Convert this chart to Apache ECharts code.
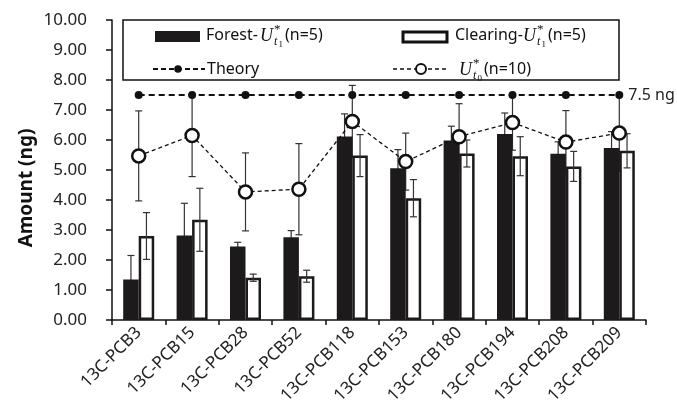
<!DOCTYPE html>
<html>
<head>
<meta charset="utf-8">
<script src="https://cdn.jsdelivr.net/npm/echarts@6/dist/echarts.min.js"></script>
<style>
html,body{margin:0;padding:0;background:#fff;}
#chart{width:677px;height:418px;}
</style>
</head>
<body>
<div id="chart"></div>
<script>
// ---- data ----
var categories = ['13C-PCB3','13C-PCB15','13C-PCB28','13C-PCB52','13C-PCB118','13C-PCB153','13C-PCB180','13C-PCB194','13C-PCB208','13C-PCB209'];
var forest      = [1.35, 2.82, 2.45, 2.76, 6.12, 5.06, 5.98, 6.20, 5.54, 5.73];
var forestErr   = [0.80, 1.07, 0.14, 0.22, 0.75, 0.62, 0.48, 0.70, 0.40, 0.55];
var clearing    = [2.80, 3.34, 1.41, 1.46, 5.48, 4.06, 5.55, 5.46, 5.12, 5.64];
var clearingErr = [0.78, 1.05, 0.12, 0.20, 0.70, 0.62, 0.45, 0.65, 0.50, 0.57];
var ut0         = [5.47, 6.15, 4.27, 4.36, 6.62, 5.28, 6.11, 6.58, 5.93, 6.23];
var ut0Err      = [1.50, 1.37, 1.30, 1.52, 1.20, 0.95, 1.10, 0.92, 1.05, 1.27];
var theoryValue = 7.5;
var theory      = [7.5, 7.5, 7.5, 7.5, 7.5, 7.5, 7.5, 7.5, 7.5, 7.5];
var yTicks      = ['0.00','1.00','2.00','3.00','4.00','5.00','6.00','7.00','8.00','9.00','10.00'];

var FONT = '"Noto Sans", sans-serif';
var MATH = '"Liberation Serif", "DejaVu Serif", serif';
var BAR_W = 15.5;

function errRender(offset, color) {
  return function (params, api) {
    var i = api.value(0), v = api.value(1), e = api.value(2);
    var t = api.coord([i, v + e]);
    var b = api.coord([i, v - e]);
    var x = t[0] + offset;
    var cap = 3.5;
    var st = {stroke: color, lineWidth: 1.2};
    return {type: 'group', children: [
      {type: 'line', shape: {x1: x, y1: t[1], x2: x, y2: b[1]}, style: st},
      {type: 'line', shape: {x1: x - cap, y1: t[1], x2: x + cap, y2: t[1]}, style: st},
      {type: 'line', shape: {x1: x - cap, y1: b[1], x2: x + cap, y2: b[1]}, style: st}
    ]};
  };
}
function errData(vals, errs) {
  return vals.map(function (v, i) { return [i, v, errs[i]]; });
}

var theoryData = theory.map(function (v, i) {
  if (i === theory.length - 1) {
    return {value: v, label: {show: true, position: 'right', distance: 5,
      formatter: theoryValue + ' ng', fontFamily: FONT, fontSize: 16, color: '#222'}};
  }
  return v;
});

function txt(x, y, s, font, extra) {
  var style = Object.assign({x: x, y: y, text: s, font: font, fill: '#111',
    textAlign: 'left', textVerticalAlign: 'middle'}, extra || {});
  return {type: 'text', z: 100, style: style};
}

var legendGraphics = [
  {type: 'rect', z: 99, shape: {x: 123, y: 20, width: 496, height: 60},
    style: {fill: '#fff', stroke: '#111', lineWidth: 1.5}},
  // row 1 - forest
  {type: 'rect', z: 100, shape: {x: 155, y: 31, width: 45, height: 11}, style: {fill: '#1c1a1b'}},
  txt(206, 35, 'Forest-', '16px ' + FONT),
  txt(260, 36, 'U', 'italic 18px ' + MATH),
  txt(274, 30, '*', '13px ' + MATH),
  txt(274, 42, 't', 'italic 12px ' + MATH),
  txt(278.5, 45, '1', '9px ' + MATH),
  txt(285, 35, '(n=5)', '16px ' + FONT),
  // row 1 - clearing
  {type: 'rect', z: 100, shape: {x: 403, y: 32, width: 44, height: 10},
    style: {fill: '#fff', stroke: '#111', lineWidth: 3}},
  txt(455, 35, 'Clearing-', '16px ' + FONT),
  txt(523, 36, 'U', 'italic 18px ' + MATH),
  txt(537, 30, '*', '13px ' + MATH),
  txt(537, 42, 't', 'italic 12px ' + MATH),
  txt(541.5, 45, '1', '9px ' + MATH),
  txt(548, 35, '(n=5)', '16px ' + FONT),
  // row 2 - theory
  {type: 'line', z: 100, shape: {x1: 153, y1: 69, x2: 205, y2: 69},
    style: {stroke: '#111', lineWidth: 2, lineDash: [5, 3]}},
  {type: 'circle', z: 101, shape: {cx: 178, cy: 69, r: 3.8}, style: {fill: '#111'}},
  txt(207, 69, 'Theory', '16px ' + FONT),
  // row 2 - U_t0
  {type: 'line', z: 100, shape: {x1: 393, y1: 69, x2: 447, y2: 69},
    style: {stroke: '#111', lineWidth: 1.3, lineDash: [4, 3]}},
  {type: 'circle', z: 101, shape: {cx: 421, cy: 69, r: 5}, style: {fill: '#fff', stroke: '#111', lineWidth: 2}},
  txt(459, 70, 'U', 'italic 18px ' + MATH),
  txt(473, 64, '*', '13px ' + MATH),
  txt(473, 76, 't', 'italic 12px ' + MATH),
  txt(477.5, 79, '0', '9px ' + MATH),
  txt(484, 69, '(n=10)', '16px ' + FONT),
  // y axis title
  {type: 'text', z: 100, x: 27, y: 188, rotation: Math.PI / 2,
    style: {x: 0, y: 0, text: 'Amount (ng)', font: 'bold 19px ' + FONT, fill: '#111',
      textAlign: 'center', textVerticalAlign: 'middle'}}
];

var chart = echarts.init(document.getElementById('chart'), null, {renderer: 'canvas'});
chart.setOption({
  animation: false,
  backgroundColor: '#fff',
  grid: {left: 112, top: 20, width: 534, height: 300, containLabel: false},
  xAxis: {
    type: 'category', data: categories,
    axisLine: {lineStyle: {color: '#111', width: 1.5}},
    axisTick: {show: true, length: 5, lineStyle: {color: '#111', width: 1.5}},
    axisLabel: {rotate: 45, margin: 10, fontFamily: FONT, fontSize: 17, color: '#222', interval: 0}
  },
  yAxis: {
    type: 'value', min: 0, max: 10, interval: 1,
    axisLine: {show: true, lineStyle: {color: '#111', width: 1.5}},
    axisTick: {show: true, length: 6, lineStyle: {color: '#111', width: 1.5}},
    splitLine: {show: false},
    axisLabel: {margin: 25, fontFamily: FONT, fontSize: 17, color: '#222',
      formatter: function (v) { return yTicks[Math.round(v)]; }}
  },
  graphic: legendGraphics,
  series: [
    {type: 'custom', name: 'ut0err', z: 1, renderItem: errRender(0, '#333'),
      data: errData(ut0, ut0Err), encode: {x: 0, y: 1}, silent: true},
    {type: 'custom', name: 'forestErr', z: 1, renderItem: errRender(-BAR_W / 2, '#333'),
      data: errData(forest, forestErr), encode: {x: 0, y: 1}, silent: true},
    {type: 'bar', name: 'Forest', data: forest, barWidth: BAR_W, barGap: '0%', z: 2,
      itemStyle: {color: '#1c1a1b'}},
    {type: 'bar', name: 'Clearing', data: clearing, barWidth: BAR_W, barGap: '0%', z: 2,
      itemStyle: {color: '#fff', borderColor: '#1c1a1b', borderWidth: 2.5}},
    {type: 'custom', name: 'clearingErr', z: 3, renderItem: errRender(BAR_W / 2, '#333'),
      data: errData(clearing, clearingErr), encode: {x: 0, y: 1}, silent: true},
    {type: 'line', name: 'Theory', data: theoryData, z: 5,
      symbol: 'circle', symbolSize: 8,
      itemStyle: {color: '#111'},
      lineStyle: {color: '#111', width: 2, type: [6, 4]}},
    {type: 'line', name: 'Ut0', data: ut0, z: 6,
      symbol: 'circle', symbolSize: 13,
      itemStyle: {color: '#fff', borderColor: '#111', borderWidth: 2.5},
      lineStyle: {color: '#111', width: 1.3, type: [4, 3]}}
  ]
});
</script>
</body>
</html>
